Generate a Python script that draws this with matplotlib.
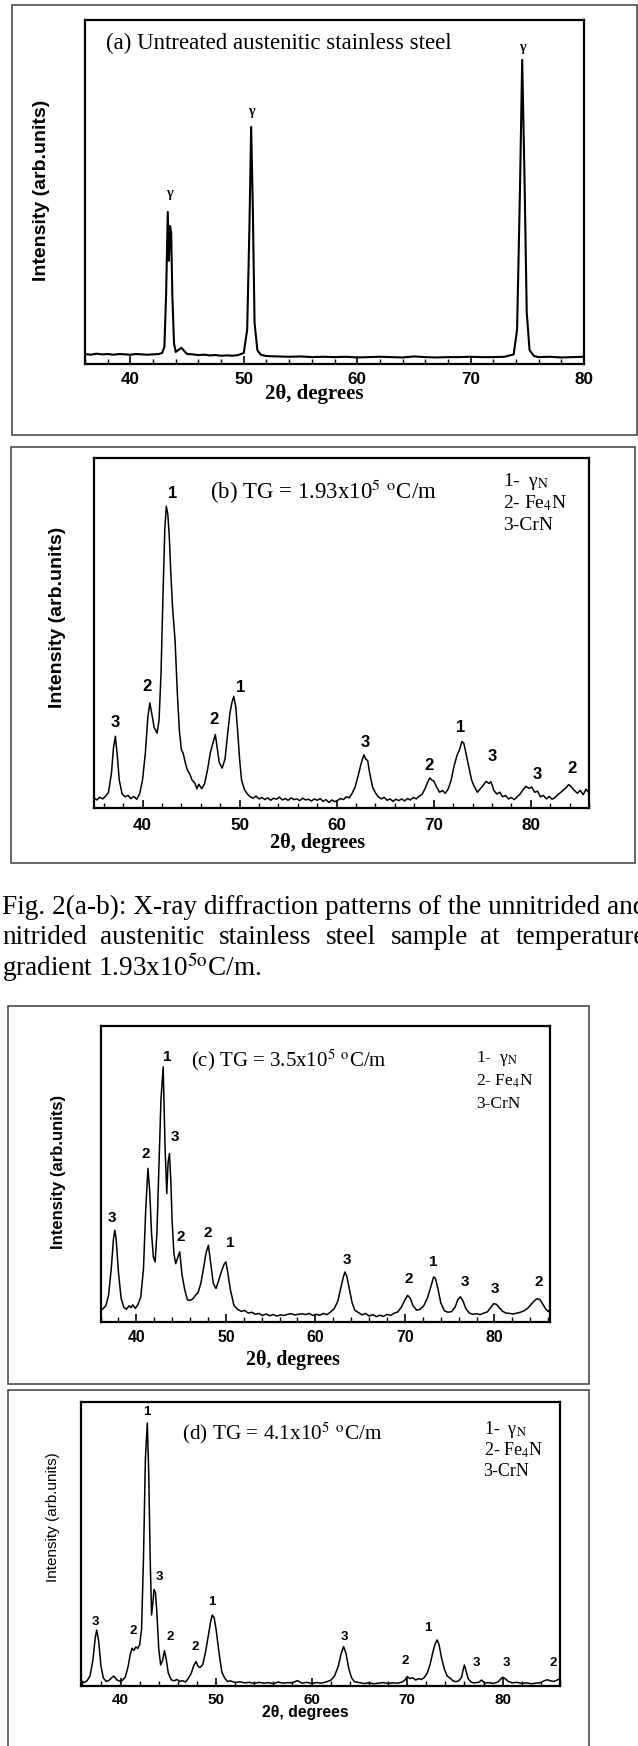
import matplotlib
matplotlib.use('Agg')
import matplotlib.pyplot as plt
from matplotlib.patches import Rectangle
from matplotlib.ticker import MultipleLocator

W, H = 638, 1746
plt.rcParams['mathtext.fontset'] = 'stix'
SERIF = 'Liberation Serif'
SANS = 'Liberation Sans'

# ---- panel (a): untreated steel ----
a_tt = [36.0, 36.5, 37.0, 37.5, 38.0, 38.5, 39.0, 39.5, 40.0, 40.5, 41.0, 41.5, 42.0, 42.5,
        42.8, 43.0, 43.15, 43.3, 43.4, 43.5, 43.6, 43.7, 43.85, 44.0, 44.2, 44.5, 44.8, 45.0,
        45.5, 46.0, 46.5, 47.0, 47.5, 48.0, 48.5, 49.0, 49.5, 50.0, 50.3, 50.5, 50.65, 50.8,
        50.95, 51.2, 51.5, 52, 53, 54, 55, 56, 57, 58, 59, 60, 61, 62, 63, 64, 65, 66, 67, 68,
        69, 70, 71, 72, 73, 73.8, 74.1, 74.35, 74.55, 74.75, 74.95, 75.2, 75.6, 76, 77, 78, 79, 80]
a_int = [2.9, 2.7, 3.0, 2.8, 2.9, 2.7, 2.9, 2.8, 2.7, 2.9, 2.8, 2.7, 2.8, 2.9,
         3.2, 5, 20, 44.2, 30, 40.1, 38, 20, 6, 3.5, 4.0, 4.7, 3.6, 2.9,
         2.8, 2.6, 2.7, 2.5, 2.6, 2.4, 2.5, 2.4, 2.6, 3.2, 10, 40, 68.9, 45,
         12, 4, 2.7, 2.3, 2.2, 2.1, 2.2, 2.0, 2.1, 2.0, 2.1, 1.9, 2.0, 2.1, 2.0, 1.9, 2.2, 2.0, 1.9, 2.0,
         2.0, 2.1, 2.0, 2.0, 2.1, 2.8, 10, 50, 88.4, 55, 15, 4, 2.3, 2.0, 2.1, 1.9, 2.0, 2.1]
a_lab_x = [43.4, 50.7, 74.6]
a_lab_y = [49.7, 73.3, 91.9]
a_lab = ['γ', 'γ', 'γ']

# ---- panel (b): TG = 1.93x10^5 ----
b_tt = [35.0, 35.3, 35.6, 35.9, 36.2, 36.5, 36.8, 37.0, 37.2, 37.4, 37.6, 37.9, 38.2, 38.5, 38.8,
        39.1, 39.4, 39.7, 40.0, 40.3, 40.55, 40.75, 40.95, 41.2, 41.5, 41.7, 41.9, 42.1, 42.3,
        42.45, 42.6, 42.75, 42.9, 43.1, 43.35, 43.6, 43.8, 44.0, 44.2, 44.4, 44.6, 44.9, 45.1,
        45.4, 45.6, 45.8, 46.1, 46.4, 46.7, 47.0, 47.3, 47.5, 47.7, 47.9, 48.2, 48.5, 48.8,
        49.0, 49.2, 49.4, 49.6, 49.8, 50.0, 50.2, 50.5, 50.8, 51.1, 51.4, 51.7, 52.0, 52.3,
        52.6, 52.9, 53.2, 53.5, 53.8, 54.1, 54.4, 54.7, 55.0, 55.3, 55.6, 55.9, 56.2, 56.5,
        56.8, 57.1, 57.4, 57.7, 58.0, 58.3, 58.6, 58.9, 59.2, 59.5, 59.8, 60.1, 60.4, 60.7,
        61.0, 61.3, 61.6, 61.9, 62.2, 62.5, 62.8, 63.0, 63.2, 63.4, 63.7, 64.0, 64.3, 64.6,
        64.9, 65.2, 65.5, 65.8, 66.1, 66.4, 66.7, 67.0, 67.3, 67.6, 67.9, 68.2, 68.5, 68.8,
        69.1, 69.4, 69.6, 69.8, 70.0, 70.3, 70.6, 70.9, 71.2, 71.5, 71.8, 72.1, 72.4, 72.7,
        72.9, 73.1, 73.3, 73.6, 73.9, 74.2, 74.5, 74.8, 75.1, 75.4, 75.7, 75.9, 76.2, 76.5,
        76.8, 77.1, 77.4, 77.7, 78.0, 78.3, 78.6, 78.9, 79.2, 79.5, 79.8, 80.1, 80.4, 80.7,
        81.0, 81.3, 81.6, 81.9, 82.2, 82.5, 82.8, 83.1, 83.4, 83.7, 83.9, 84.2, 84.5, 84.8,
        85.1, 85.4, 85.7, 86.0]
b_int = [2.9, 2.3, 3.1, 2.6, 3.4, 4.5, 10, 17, 20.5, 15, 8, 4, 3.2, 3.6, 2.7,
         3.3, 2.5, 4, 8, 16, 26, 30, 27, 23, 21.4, 25, 38, 60, 80,
         86.2, 84, 78, 68, 57, 48, 32, 22, 16.7, 15.5, 13, 11, 9.5, 8,
         7.1, 5.5, 6.8, 5.5, 7, 11, 16, 19, 21, 17, 13, 11.4, 14, 22,
         27, 30, 31.9, 29, 22, 14, 8, 5.3, 4, 3.2, 2.8, 3.4, 2.6, 3.0,
         2.4, 2.9, 2.2, 2.8, 2.5, 3.1, 2.3, 2.7, 2.2, 2.9, 2.4, 2.6, 2.1, 2.8,
         2.3, 2.5, 2.0, 2.6, 2.2, 2.7, 1.9, 2.4, 1.6, 2.3, 1.8, 2.2, 2.7, 2.4,
         3.2, 2.9, 4.2, 6, 9, 12.5, 15.2, 14, 13.5, 10, 6, 4.3, 3.2, 2.6,
         3.0, 2.2, 2.6, 1.9, 2.5, 2.1, 2.6, 2.0, 2.7, 2.3, 3.0, 2.6, 3.4, 3.9,
         5.5, 7.5, 8.6, 8, 7.7, 6, 4.5, 5, 4.2, 5.5, 8, 12, 15, 17,
         19, 18.5, 16, 12, 8, 6, 4.5, 5.5, 6.5, 7.6, 7.0, 7.5, 5, 4.0,
         4.5, 3.2, 3.6, 2.6, 3.0, 2.4, 3.2, 4.0, 5.2, 6.2, 5.6, 6.0, 4.5, 4.8,
         3.2, 3.6, 2.6, 3.3, 2.5, 3.0, 3.8, 4.5, 5.2, 6.0, 6.7, 6.0, 5.0, 4.2,
         5.0, 3.8, 5.4, 4.3]
b_lab_x = [37.2, 40.5, 43.1, 47.4, 50.1, 62.9, 69.5, 72.8, 76.0, 80.7, 84.3]
b_lab_y = [24.3, 34.8, 90.0, 25.2, 34.3, 18.6, 12.1, 22.9, 14.8, 9.7, 11.2]
b_lab = ['3', '2', '1', '2', '1', '3', '2', '1', '3', '3', '2']

# ---- panel (c): TG = 3.5x10^5 ----
c_tt = [36.0, 36.3, 36.6, 36.9, 37.2, 37.45, 37.6, 37.75, 38.0, 38.3, 38.6, 38.9, 39.2, 39.4,
        39.6, 39.9, 40.2, 40.5, 40.8, 41.05, 41.3, 41.5, 41.7, 41.9, 42.1, 42.3, 42.5, 42.75,
        43.0, 43.2, 43.4, 43.55, 43.7, 43.85, 44.0, 44.2, 44.4, 44.65, 44.85, 45.1, 45.4, 45.7,
        46.0, 46.3, 46.6, 46.9, 47.2, 47.5, 47.8, 48.05, 48.3, 48.6, 48.9, 49.2, 49.5, 49.8,
        50.0, 50.2, 50.5, 50.9, 51.3, 51.7, 52.1, 52.5, 52.9, 53.3, 53.7, 54.1, 54.5, 54.9,
        55.3, 55.7, 56.1, 56.5, 56.9, 57.3, 57.7, 58.1, 58.5, 58.9, 59.3, 59.7, 60.1, 60.5,
        60.9, 61.3, 61.7, 62.1, 62.5, 62.8, 63.1, 63.3, 63.5, 63.8, 64.1, 64.4, 64.8, 65.2,
        65.6, 66.0, 66.4, 66.8, 67.2, 67.6, 68.0, 68.4, 68.8, 69.2, 69.6, 70.0, 70.3, 70.6,
        70.9, 71.3, 71.7, 72.1, 72.5, 72.9, 73.2, 73.4, 73.7, 74.0, 74.4, 74.8, 75.2, 75.6,
        75.9, 76.2, 76.5, 76.8, 77.2, 77.6, 78.0, 78.4, 78.8, 79.2, 79.6, 79.9, 80.2, 80.5,
        80.9, 81.3, 81.7, 82.1, 82.5, 82.9, 83.3, 83.7, 84.1, 84.5, 84.8, 85.1, 85.4, 85.7,
        86.0, 86.2]
c_int = [3.9, 4.5, 5.5, 9, 18, 28, 31, 28, 17, 8, 5, 4.3, 5.5, 4.8,
         5.8, 4.6, 6, 8.5, 18, 38, 51.9, 44, 30, 22, 20.3, 30, 50, 75,
         86.2, 60, 43.4, 54, 56.9, 48, 34, 23, 19.7, 22, 23.7, 16, 11, 7.5,
         7.3, 7.8, 9, 10, 13, 18, 23.5, 25.9, 20, 13, 11.3, 14, 17, 19.5,
         20.3, 17, 11, 5.6, 4.3, 3.6, 3.9, 3.0, 3.3, 2.6, 2.9, 2.2, 2.7, 2.1,
         2.5, 2.0, 2.4, 2.2, 2.6, 2.8, 2.4, 2.6, 2.8, 2.5, 2.9, 2.2, 2.6, 2.3,
         2.9, 2.5, 3.4, 4.5, 7, 11, 15, 16.9, 15.5, 11, 6.5, 4, 3.2, 2.4,
         2.9, 2.0, 2.5, 1.8, 2.3, 1.9, 2.6, 2.2, 3.0, 3.4, 5, 7.5, 9.0, 8,
         5.5, 4.0, 4.3, 5.5, 8, 12, 15.2, 14.8, 11, 6.5, 3.8, 3.3, 3.5, 5,
         7.5, 8.5, 7, 4.5, 3.0, 2.6, 2.8, 2.5, 3.0, 3.4, 5, 6.2, 6.0, 5.0,
         3.6, 3.0, 2.9, 2.7, 3.0, 3.3, 3.8, 4.6, 6, 7.3, 7.9, 7.5, 6.0, 4.5,
         3.5, 4.3]
c_lab_x = [37.3, 41.05, 43.4, 44.3, 45.0, 47.95, 50.5, 63.5, 70.45, 73.2, 76.7, 80.0, 84.9]
c_lab_y = [35.0, 56.6, 89.6, 62.6, 28.7, 29.9, 26.7, 20.9, 14.4, 20.3, 13.5, 11.3, 13.5]
c_lab = ['3', '2', '1', '3', '2', '2', '1', '3', '2', '1', '3', '3', '2']

# ---- panel (d): TG = 4.1x10^5 ----
d_tt = [35.9, 36.2, 36.5, 36.8, 37.1, 37.35, 37.5, 37.7, 37.95, 38.2, 38.5, 38.8, 39.1, 39.3,
        39.6, 39.9, 40.2, 40.5, 40.8, 41.0, 41.2, 41.4, 41.6, 41.8, 42.0, 42.2, 42.4, 42.6,
        42.8, 42.95, 43.1, 43.25, 43.4, 43.5, 43.65, 43.8, 44.0, 44.2, 44.4, 44.6, 44.8, 45.0,
        45.3, 45.6, 45.9, 46.2, 46.5, 46.8, 47.1, 47.4, 47.7, 47.9, 48.1, 48.3, 48.6, 48.9,
        49.2, 49.45, 49.6, 49.8, 50.0, 50.3, 50.6, 50.9, 51.2, 51.5, 52, 52.5, 53, 53.5, 54,
        54.5, 55, 55.5, 56, 56.5, 57, 57.5, 58, 58.5, 59, 59.5, 60, 60.5, 61, 61.5, 62, 62.4,
        62.8, 63.1, 63.35, 63.6, 63.9, 64.2, 64.5, 65, 65.5, 66, 66.5, 67, 67.5, 68, 68.5, 69,
        69.5, 69.8, 70.0, 70.3, 70.6, 70.9, 71.2, 71.5, 71.8, 72.1, 72.4, 72.7, 72.95, 73.15,
        73.35, 73.6, 73.9, 74.2, 74.5, 74.8, 75.1, 75.4, 75.7, 75.85, 76.0, 76.2, 76.4, 76.7,
        77, 77.5, 77.8, 78.1, 78.5, 79, 79.5, 79.8, 80.0, 80.3, 80.6, 81, 81.5, 82, 82.5, 83,
        83.5, 84, 84.4, 84.7, 85.0, 85.4, 85.7, 86.05]
d_int = [1.8, 1.2, 1.9, 3.5, 9, 17, 19.7, 16, 7, 2.8, 1.6, 2.0, 3.0, 3.5,
         2.2, 1.7, 2.0, 3.2, 7, 11, 13.3, 12.5, 13.8, 13.2, 14.5, 20, 45, 80,
         92.6, 75, 45, 25, 30, 34, 33, 26, 13, 7.4, 9, 12.5, 9, 4.5,
         2.2, 1.8, 2.3, 1.6, 1.9, 1.4, 2.7, 4.5, 7.5, 8.6, 7, 6.5, 7.5, 12,
         18, 23, 25, 24, 20, 12, 5, 2.8, 1.6, 1.8, 1.2, 1.5, 1.1, 1.3, 0.9,
         1.3, 1.0, 1.2, 0.8, 1.4, 1.0, 1.2, 1.1, 1.9, 1.0, 1.3, 0.9, 1.2, 1.0, 1.4, 2.0, 3.5,
         7, 11.5, 13.9, 11.5, 6, 2.8, 1.5, 1.2, 0.9, 1.1, 0.8, 1.0, 1.2, 0.9, 1.1, 1.0,
         1.4, 2.2, 3.3, 2.6, 2.9, 2.1, 2.6, 2.3, 3.0, 4.5, 7.5, 12, 15, 16.2,
         14.5, 10, 6, 3.5, 2.8, 1.8, 1.5, 1.8, 3.0, 5.5, 7.4, 5, 2.5, 1.4,
         1.1, 1.3, 2.1, 1.0, 1.2, 0.9, 1.4, 2.4, 3.1, 2.5, 1.6, 1.1, 1.3, 0.9, 1.1, 0.8,
         1.0, 1.2, 1.9, 2.2, 1.8, 1.6, 2.1, 2.6]
d_lab_x = [37.35, 41.3, 42.7, 44.05, 45.15, 47.8, 49.6, 63.4, 69.8, 72.2, 77.3, 80.4, 85.3]
d_lab_y = [22.4, 19.2, 96.4, 38.5, 17.4, 13.9, 29.7, 17.4, 8.8, 20.3, 8.2, 8.2, 8.2]
d_lab = ['3', '2', '1', '3', '2', '2', '1', '3', '2', '1', '3', '3', '2']

phase_key = ['1-  γ$_{\\mathrm{N}}$', '2- Fe$_4$N', '3-CrN']
caption_words = ['nitrided', 'austenitic', 'stainless', 'steel', 'sample', 'at', 'temperature']

fig = plt.figure(figsize=(W / 100, H / 100), dpi=100)


def fx(x):
    return x / W


def fy(y):
    return 1 - y / H


def box(x0, y0, x1, y1):
    fig.patches.append(Rectangle((fx(x0), fy(y1)), (x1 - x0) / W, (y1 - y0) / H,
                                 transform=fig.transFigure, fill=False,
                                 ec='#3c3c3c', lw=1.1))


def panel(l, t, r, b, xlim, tt, inten, lx, ly, lt, lab_kw, tick_fs, pad, lw):
    ax = fig.add_axes([fx(l), fy(b), (r - l) / W, (b - t) / H])
    ax.plot(tt, inten, color='black', lw=lw)
    for x, y, s in zip(lx, ly, lt):
        ax.text(x, y, s, ha='center', va='center', **lab_kw)
    ax.set_xlim(*xlim)
    ax.set_ylim(0, 100)
    ax.set_yticks([])
    ax.xaxis.set_major_locator(MultipleLocator(10))
    ax.xaxis.set_minor_locator(MultipleLocator(2))
    ax.tick_params(axis='x', which='major', direction='in', length=6, width=1.2,
                   pad=pad, labelsize=tick_fs)
    ax.tick_params(axis='x', which='minor', direction='in', length=3.5, width=1.0)
    for lab in ax.get_xticklabels():
        lab.set_fontfamily(SANS)
        lab.set_fontweight('bold')
    for sp in ax.spines.values():
        sp.set_linewidth(1.6)
    return ax


# ---------- (a) ----------
box(12, 5, 637, 435)
panel(85, 20, 584, 364, (36, 80), a_tt, a_int, a_lab_x, a_lab_y, a_lab,
      dict(fontsize=10, family=SERIF, fontweight='bold'), 12.3, 6, 1.5)
fig.text(fx(106), fy(43), '(a) Untreated austenitic stainless steel', family=SERIF,
         fontsize=16.5, ha='left', va='center')
fig.text(fx(42), fy(190), 'Intensity (arb.units)', family=SANS, fontweight='bold',
         fontsize=14, rotation=90, ha='center', va='center')
fig.text(fx(314), fy(394), '2θ, degrees', family=SERIF, fontweight='bold',
         fontsize=15, ha='center', va='center')

# ---------- (b) ----------
box(11, 447, 635, 863)
panel(94, 458, 589, 808, (35, 86), b_tt, b_int, b_lab_x, b_lab_y, b_lab,
      dict(fontsize=12, family=SANS, fontweight='bold'), 12.3, 7, 1.1)
fig.text(fx(210), fy(492), '(b) TG = 1.93x10$^5$ $^{\\mathrm{o}}$C/m', family=SERIF,
         fontsize=16.5, ha='left', va='center')
for i, s in enumerate(phase_key):
    fig.text(fx(503), fy(482 + 21.5 * i), s, family=SERIF, fontsize=14,
             ha='left', va='center')
fig.text(fx(58), fy(617), 'Intensity (arb.units)', family=SANS, fontweight='bold',
         fontsize=14, rotation=90, ha='center', va='center')
fig.text(fx(318), fy(843), '2θ, degrees', family=SERIF, fontweight='bold',
         fontsize=14.5, ha='center', va='center')

# ---------- caption ----------
cap_kw = dict(family=SERIF, fontsize=19.6, va='center', ha='left')
fig.text(fx(2), fy(907), 'Fig. 2(a-b): X-ray diffraction patterns of the unnitrided and', **cap_kw)
for xw, w in zip([2, 100, 219, 326, 391, 480, 516], caption_words):
    fig.text(fx(xw), fy(937), w, **cap_kw)
fig.text(fx(2), fy(967), 'gradient 1.93x10$^{5\\mathrm{o}}$C/m.', **cap_kw)

# ---------- (c) ----------
box(8, 1006, 589, 1384)
panel(100.5, 1026, 550, 1322, (36, 86.2), c_tt, c_int, c_lab_x, c_lab_y, c_lab,
      dict(fontsize=11, family=SANS, fontweight='bold'), 11.4, 6, 1.1)
fig.text(fx(191), fy(1060), '(c) TG = 3.5x10$^5$ $^{\\mathrm{o}}$C/m', family=SERIF,
         fontsize=15, ha='left', va='center')
for i, s in enumerate(phase_key):
    fig.text(fx(476), fy(1058 + 23 * i), s, family=SERIF, fontsize=12.5,
             ha='left', va='center')
fig.text(fx(58), fy(1172), 'Intensity (arb.units)', family=SANS, fontweight='bold',
         fontsize=12, rotation=90, ha='center', va='center')
fig.text(fx(293), fy(1360), '2θ, degrees', family=SERIF, fontweight='bold',
         fontsize=14.3, ha='center', va='center')

# ---------- (d) ----------
box(8, 1390, 589, 1760)
panel(81.4, 1402, 560.4, 1686, (35.9, 86.05), d_tt, d_int, d_lab_x, d_lab_y, d_lab,
      dict(fontsize=9.5, family=SANS, fontweight='bold'), 11, 5, 1.1)
fig.text(fx(182), fy(1433), '(d) TG = 4.1x10$^5$ $^{\\mathrm{o}}$C/m', family=SERIF,
         fontsize=15.3, ha='left', va='center')
for i, s in enumerate(phase_key):
    fig.text(fx(483.5), fy(1430 + 20.5 * i), s, family=SERIF, fontsize=13,
             ha='left', va='center')
fig.text(fx(53), fy(1517), 'Intensity (arb.units)', family=SANS,
         fontsize=11, rotation=90, ha='center', va='center')
fig.text(fx(305), fy(1713), '2θ, degrees', family=SANS, fontweight='bold',
         fontsize=11.3, ha='center', va='center')

fig.savefig('out.png', dpi=100)
